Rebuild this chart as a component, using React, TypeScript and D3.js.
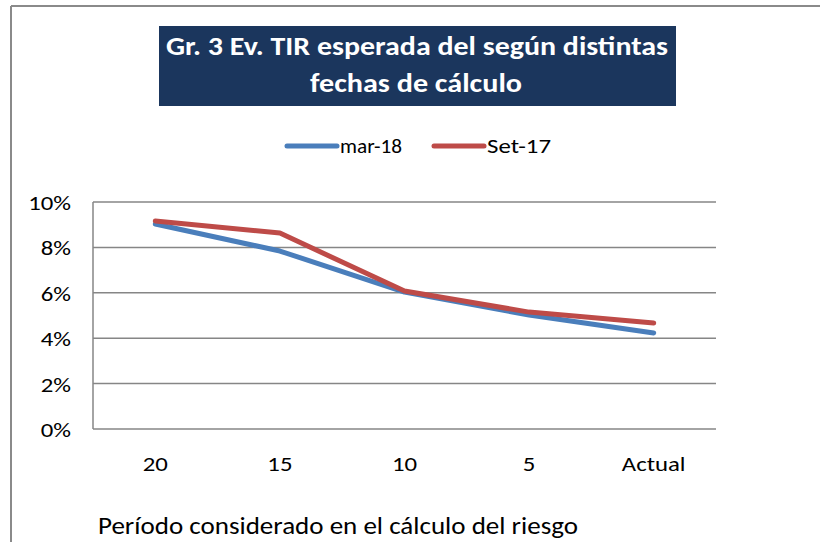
import React from "react";
import * as d3 from "d3";

const categories = ["20", "15", "10", "5", "Actual"];
const mar18 = [0.0903, 0.0784, 0.0603, 0.0502, 0.0423];
const set17 = [0.0916, 0.0863, 0.0608, 0.0515, 0.0467];
const yTicks = [0, 0.02, 0.04, 0.06, 0.08, 0.1];
const seriesNames = ["mar-18", "Set-17"];
const colors = ["#4a7ebb", "#be4b48"];

const FONT = "'Carlito', 'Liberation Sans Narrow', 'Open Sans', 'Noto Sans', sans-serif";
const SX = 1.18;

function SText(props: { x: number; y: number; anchor?: string; size: number; children: React.ReactNode; weight?: string; fill?: string }) {
  return (
    <text
      transform={`translate(${props.x},${props.y}) scale(${SX},1)`}
      textAnchor={props.anchor || "start"}
      fontFamily={FONT}
      fontSize={props.size}
      fontWeight={props.weight || "normal"}
      fill={props.fill || "#000"}
    >
      {props.children}
    </text>
  );
}

export default function App() {
  const W = 820, H = 542;
  const left = 93, right = 716, top = 202, bottom = 429;
  const x = d3.scaleBand<string>().domain(categories).range([left, right]);
  const y = d3.scaleLinear().domain([0, 0.1]).range([bottom, top]);
  const line = d3
    .line<number>()
    .x((_, i) => (x(categories[i]) as number) + x.bandwidth() / 2)
    .y((d) => y(d));
  const fmt = d3.format(".0%");
  const series = [mar18, set17];

  return (
    <svg width={W} height={H} style={{ position: "absolute", left: 0, top: 0, background: "#fff" }}>
      <rect x={0} y={0} width={W} height={H} fill="#fff" />
      {/* frame */}
      <line x1={11} x2={W} y1={6} y2={6} stroke="#8a8a8a" strokeWidth={2} />
      <line x1={11} x2={11} y1={6} y2={H} stroke="#8a8a8a" strokeWidth={2} />
      {/* title */}
      <rect x={159} y={26} width={517} height={80} fill="#1b365d" />
      <text x={417} y={55} textAnchor="middle" fill="#fff" fontFamily={FONT} fontWeight="bold" fontSize={26}
        textLength={502} lengthAdjust="spacingAndGlyphs">
        Gr. 3 Ev. TIR esperada del según distintas
      </text>
      <text x={416} y={92} textAnchor="middle" fill="#fff" fontFamily={FONT} fontWeight="bold" fontSize={26}
        textLength={212} lengthAdjust="spacingAndGlyphs">
        fechas de cálculo
      </text>
      {/* legend */}
      {seriesNames.map((n, i) => {
        const lx = i === 0 ? 287 : 434;
        return (
          <g key={n}>
            <line x1={lx} x2={lx + 50} y1={146} y2={146} stroke={colors[i]} strokeWidth={5} strokeLinecap="round" />
            <text x={lx + 53} y={153} fontFamily={FONT} fontSize={21} fill="#000"
              textLength={i === 0 ? 62 : 64} lengthAdjust="spacingAndGlyphs">
              {n}
            </text>
          </g>
        );
      })}
      {/* gridlines */}
      {yTicks.map((t) => (
        <g key={t}>
          <line x1={left} x2={right} y1={y(t)} y2={y(t)} stroke="#868686" strokeWidth={1.5} />
          <SText x={71} y={y(t) + 8} anchor="end" size={21}>
            {fmt(t)}
          </SText>
        </g>
      ))}
      <line x1={left} x2={left} y1={top} y2={bottom} stroke="#868686" strokeWidth={1.5} />
      {/* x labels */}
      {categories.map((c) => (
        <SText key={c} x={(x(c) as number) + x.bandwidth() / 2} y={471} anchor="middle" size={21}>
          {c}
        </SText>
      ))}
      {/* series */}
      {series.map((s, i) => (
        <path key={i} d={line(s) || ""} fill="none" stroke={colors[i]} strokeWidth={5}
          strokeLinecap="round" strokeLinejoin="round" />
      ))}
      {/* axis title */}
      <text x={98} y={534} fontFamily={FONT} fontSize={24} fill="#000" textLength={480} lengthAdjust="spacingAndGlyphs">
        Período considerado en el cálculo del riesgo
      </text>
    </svg>
  );
}
